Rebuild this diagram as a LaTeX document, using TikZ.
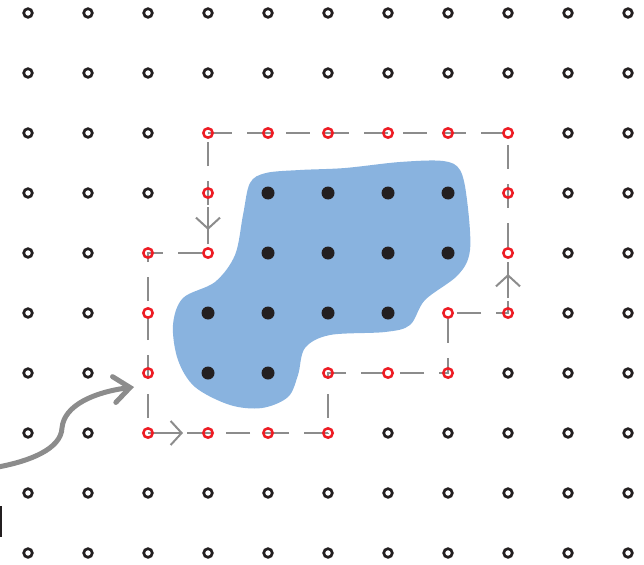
\documentclass[tikz,border=0pt]{standalone}
\usetikzlibrary{arrows.meta}
\definecolor{ringblack}{HTML}{231F20}
\definecolor{ringred}{HTML}{ED1C24}
\definecolor{blobblue}{HTML}{89B3DF}
\definecolor{trailgray}{HTML}{8C8C8C}
\pgfdeclarelayer{back}
\pgfsetlayers{back,main}
\def\markred#1{\expandafter\def\csname isred#1\endcsname{}}
\def\markdot#1{\expandafter\def\csname isdot#1\endcsname{}}
\markred{3-2}\markred{4-2}\markred{5-2}\markred{6-2}\markred{7-2}\markred{8-2}
\markred{8-3}\markred{8-4}\markred{8-5}\markred{7-5}\markred{7-6}\markred{6-6}
\markred{5-6}\markred{5-7}\markred{4-7}\markred{3-7}\markred{2-7}\markred{2-6}
\markred{2-5}\markred{2-4}\markred{3-4}\markred{3-3}
\markdot{4-3}\markdot{5-3}\markdot{6-3}\markdot{7-3}
\markdot{4-4}\markdot{5-4}\markdot{6-4}\markdot{7-4}
\markdot{3-5}\markdot{4-5}\markdot{5-5}\markdot{6-5}
\markdot{3-6}\markdot{4-6}
\begin{document}
\begin{tikzpicture}[x=1pt,y=-1pt,
  ring/.style={circle,draw=ringblack,line width=2.7pt,minimum size=8.6pt,inner sep=0pt},
  redring/.style={circle,draw=ringred,line width=2.5pt,minimum size=9.4pt,inner sep=0pt},
  dot/.style={circle,fill=ringblack,minimum size=13pt,inner sep=0pt},
  trail/.style={draw=trailgray,line width=2pt,dash pattern=on 24pt off 15pt},
  dirarrow/.style={draw=trailgray,line width=2pt,-{Straight Barb[length=11pt,width=24pt]}},
  bigarrow/.style={draw=trailgray,line width=5pt,line cap=round,-{Straight Barb[length=16pt,width=26pt,line cap=round]}},
  blob/.style={fill=blobblue,draw=none}]
\useasboundingbox (0,0) rectangle (644,564);
% grid
\foreach \i in {0,...,10}{
  \foreach \j in {0,...,9}{
    \pgfmathsetmacro{\px}{28+60*\i}
    \pgfmathsetmacro{\py}{13+60*\j}
    \ifcsname isred\i-\j\endcsname
      \node[redring] (n-\i-\j) at (\px,\py) {};
    \else
      \ifcsname isdot\i-\j\endcsname
        \node[dot] (n-\i-\j) at (\px,\py) {};
      \else
        \node[ring] (n-\i-\j) at (\px,\py) {};
      \fi
    \fi
  }
}
\begin{pgfonlayer}{back}
% blob
\fill[blob] plot[smooth cycle,tension=0.55] coordinates {
  (250,183) (266,173) (300,170) (345,168) (400,162) (443,161) (460,170)
  (467,200) (470,250) (458,275) (425,300) (410,325) (385,332) (330,335)
  (305,348) (298,375) (288,397) (262,408) (230,405) (195,387) (178,360)
  (173,325) (183,298) (215,282) (235,255) (243,215)};
% dashed trail
\draw[trail] (n-3-2.center) -- (n-8-2.center) -- (n-8-5.center) -- (n-7-5.center)
  -- (n-7-6.center) -- (n-5-6.center) -- (n-5-7.center) -- (n-2-7.center)
  -- (n-2-4.center) -- (n-3-4.center) -- cycle;
\end{pgfonlayer}
% direction arrows
\coordinate (dA) at (208,207);
\coordinate (dB) at (208,230);
\coordinate (rA) at (159,433);
\coordinate (rB) at (183,433);
\coordinate (uA) at (508,298);
\coordinate (uB) at (508,274);
\draw[dirarrow] (dA) -- (dB);
\draw[dirarrow] (rA) -- (rB);
\draw[dirarrow] (uA) -- (uB);
% big curved arrow
\coordinate (bigS) at (-2,467);
\coordinate (bigE) at (134,387);
\draw[bigarrow] (bigS) .. controls (30,461) and (61,449) .. (62,428)
  .. controls (64,405) and (95,392) .. (bigE);
% cropped bar at left
\coordinate (barT) at (1,506);
\coordinate (barB) at (1,537);
\draw[ringblack,line width=2pt] (barT) -- (barB);
\end{tikzpicture}
\end{document}
